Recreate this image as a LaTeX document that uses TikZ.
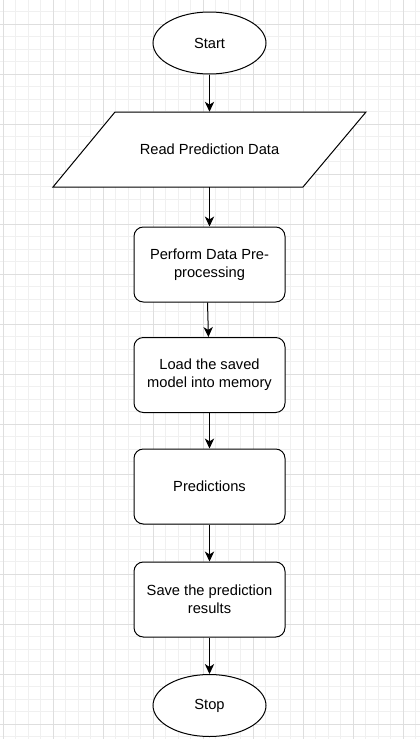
\documentclass[tikz,border=0pt]{standalone}
\usepackage{fontspec}
\setmainfont{Liberation Sans}
\usetikzlibrary{arrows.meta,shapes.geometric}
\definecolor{gridmin}{HTML}{F0F0F0}
\definecolor{gridmaj}{HTML}{DEDEDE}
\definecolor{ink}{HTML}{000000}
\tikzset{
  term/.style={ellipse, draw=ink, fill=white, line width=0.75pt, minimum width=113*0.75pt, minimum height=62*0.75pt, inner sep=0pt},
  proc/.style={rectangle, draw=ink, fill=white, line width=0.75pt, rounded corners=7pt, minimum width=151*0.75pt, minimum height=75*0.75pt, align=center, inner sep=0pt},
  io/.style={rectangle, minimum width=313*0.75pt, minimum height=75*0.75pt, inner sep=0pt},
  ioshape/.style={draw=ink, fill=white, line width=0.75pt, line join=miter},
  flow/.style={draw=ink, line width=0.75pt, -{Stealth[length=7.5pt,width=7pt,inset=2.2pt]}},
  gminor/.style={draw=gridmin, line width=0.75pt},
  gmajor/.style={draw=gridmaj, line width=0.75pt},
}

\begin{document}
\begin{tikzpicture}[x=0.75pt, y=-0.75pt, every node/.style={font=\fontsize{11}{13.5}\selectfont}]
  \useasboundingbox (0,0) rectangle (420,739);
  \fill[white] (0,0) rectangle (420,739);
  % grid
  \foreach \k in {0,...,33} \draw[gminor] (3+12.5*\k,0) -- (3+12.5*\k,739);
  \foreach \k in {-1,...,57} \draw[gminor] (0,24+12.5*\k) -- (420,24+12.5*\k);
  \foreach \k in {0,...,8} \draw[gmajor] (3+50*\k,0) -- (3+50*\k,739);
  \foreach \k in {0,...,14} \draw[gmajor] (0,24+50*\k) -- (420,24+50*\k);
  % input shape
  \draw[ioshape] (53,187) -- (115,112) -- (366,112) -- (303,187) -- cycle;
  % nodes
  \node[term] (start) at (209.5,43) {Start};
  \node[io] (read) at (209.5,149.5) {Read Prediction Data};
  \node[proc] (prep) at (209.5,264.5) {Perform Data Pre-\\processing};
  \node[proc] (load) at (209.5,375) {Load the saved\\model into memory};
  \node[proc] (pred) at (209.5,486.5) {Predictions};
  \node[proc] (save) at (209.5,599.5) {Save the prediction\\results};
  \node[term] (stop) at (209.5,705.5) {Stop};
  % arrows
  \draw[flow] (start) -- (read);
  \draw[flow] (read) -- (prep);
  \draw[flow] ([xshift=-1.5pt]prep.south) -- (load);
  \draw[flow] (load) -- (pred);
  \draw[flow] (pred) -- (save);
  \draw[flow] (save) -- (stop);
\end{tikzpicture}
\end{document}
